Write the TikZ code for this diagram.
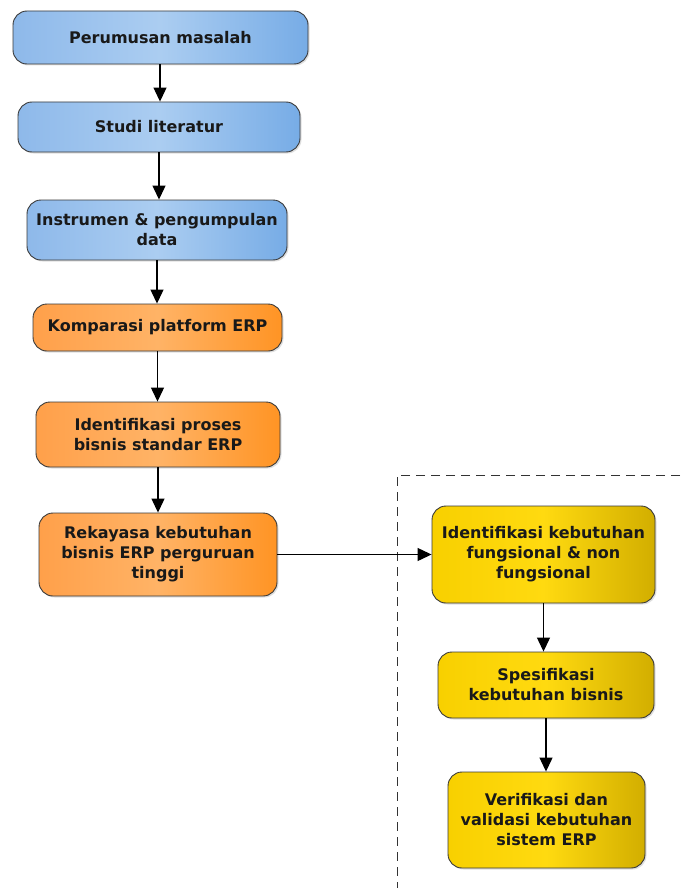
\documentclass[tikz,border=0pt]{standalone}
\usepackage{fontspec}
\setmainfont{DejaVu Sans}
\usetikzlibrary{arrows.meta,shadows}
\definecolor{bL}{HTML}{8EB9EA}
\definecolor{bM}{HTML}{ABCDF1}
\definecolor{bR}{HTML}{77ACE6}
\definecolor{oL}{HTML}{FFA04A}
\definecolor{oM}{HTML}{FFB366}
\definecolor{oR}{HTML}{FF9424}
\definecolor{yL}{HTML}{F8D000}
\definecolor{yM}{HTML}{FFDA10}
\definecolor{yR}{HTML}{D2AE00}
\definecolor{edge}{HTML}{3A3A3A}
\begin{document}
\begin{tikzpicture}[x=1pt,y=-1pt,
  box/.style={draw=edge, line width=0.9pt, rounded corners=14pt, align=center,
    font=\bfseries\fontsize{16}{20}\selectfont, text=black!90, inner sep=0pt,
    drop shadow={shadow xshift=1.5pt, shadow yshift=-1.5pt, opacity=0.25}},
  bluebox/.style={box, left color=bL, right color=bR, middle color=bM},
  orangebox/.style={box, left color=oL, right color=oR, middle color=oM},
  yellowbox/.style={box, left color=yL, right color=yR, middle color=yM},
  conn/.style={line width=1.2pt, -{Triangle[length=14pt,width=13pt]}},
  boundary/.style={line width=1pt, black!80, dash pattern=on 9pt off 6pt}]
\useasboundingbox (0,0) rectangle (680,888);
% dashed boundary
\coordinate (dtr) at (680,475);
\coordinate (dtl) at (397,475);
\coordinate (dbl) at (397,888);
\draw[boundary] (dtr) -- (dtl) -- (dbl);
% left column
\node[bluebox, minimum width=295pt, minimum height=53pt] (n1) at (160.5,37.5) {Perumusan masalah};
\node[bluebox, minimum width=282pt, minimum height=50pt] (n2) at (159,127) {Studi literatur};
\node[bluebox, minimum width=260pt, minimum height=60pt] (n3) at (157,230) {Instrumen \& pengumpulan\\data};
\node[orangebox, minimum width=249pt, minimum height=47pt] (n4) at (157.5,327.5) {Komparasi platform ERP};
\node[orangebox, minimum width=244pt, minimum height=65pt] (n5) at (158,434.5) {Identifikasi proses\\bisnis standar ERP};
\node[orangebox, minimum width=238pt, minimum height=83pt] (n6) at (158,554.5) {Rekayasa kebutuhan\\bisnis ERP perguruan\\tinggi};
% right column
\node[yellowbox, minimum width=223pt, minimum height=97pt] (n7) at (543.5,554.5) {Identifikasi kebutuhan\\fungsional \& non\\fungsional};
\node[yellowbox, minimum width=216pt, minimum height=66pt] (n8) at (546,685) {Spesifikasi\\kebutuhan bisnis};
\node[yellowbox, minimum width=197pt, minimum height=96pt] (n9) at (546.5,820) {Verifikasi dan\\validasi kebutuhan\\sistem ERP};
% connectors
\coordinate (a1) at (160,64);
\draw[conn] (n1.south -| a1) -- (n2.north -| a1);
\draw[conn] (n2.south) -- (n3.north -| n2.south);
\draw[conn] (n3.south) -- (n4.north -| n3.south);
\draw[conn] (n4.south) -- (n5.north -| n4.south);
\draw[conn] (n5.south) -- (n6.north -| n5.south);
\draw[conn] (n6.east) -- (n7.west);
\draw[conn] (n7.south) -- (n8.north -| n7.south);
\draw[conn] (n8.south) -- (n9.north -| n8.south);
\end{tikzpicture}
\end{document}
